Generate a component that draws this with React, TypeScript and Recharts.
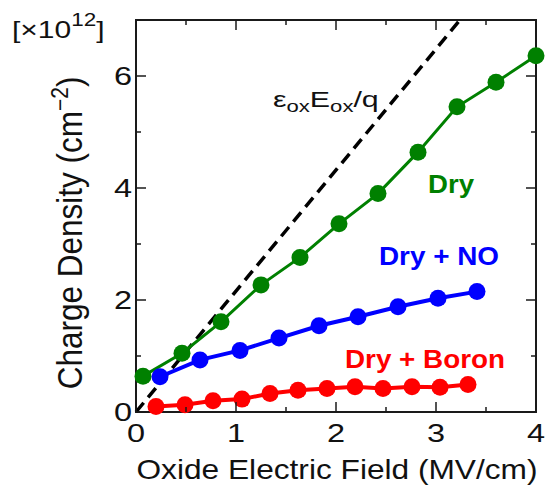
import { LineChart, Line, XAxis, YAxis, ReferenceArea } from "recharts";

// field in MV/cm, charge density in 1e12 cm^-2
const dryField = [0.07, 0.46, 0.85, 1.25, 1.64, 2.03, 2.42, 2.82, 3.21, 3.6, 4.0];
const dryCharge = [0.64, 1.05, 1.61, 2.27, 2.76, 3.36, 3.9, 4.64, 5.45, 5.89, 6.36];
const noField = [0.24, 0.64, 1.04, 1.43, 1.83, 2.22, 2.62, 3.02, 3.41];
const noCharge = [0.63, 0.93, 1.1, 1.32, 1.54, 1.7, 1.88, 2.03, 2.15];
const boronField = [0.2, 0.49, 0.77, 1.06, 1.34, 1.62, 1.91, 2.19, 2.47, 2.76, 3.04, 3.32];
const boronCharge = [0.1, 0.13, 0.2, 0.23, 0.33, 0.39, 0.42, 0.45, 0.42, 0.45, 0.44, 0.49];
const idealField = [0, 3.24];
const idealCharge = [0, 7];

const xTicks = [0, 0.5, 1, 1.5, 2, 2.5, 3, 3.5, 4];
const xLabels = [0, 1, 2, 3, 4];
const yTicks = [0, 1, 2, 3, 4, 5, 6, 7];
const yLabels = [0, 2, 4, 6];

const toPoints = (xs: number[], ys: number[]) => xs.map((x, i) => ({ x, y: ys[i] }));

const FONT = "'Liberation Sans', Arial, Helvetica, sans-serif";
const AXIS = "#1a1a1a";
const INK = "#111";

// ticks point inward on every side; the bottom/left axes also draw the mirrored top/right ticks
function BottomTick(props: any) {
  const { x, y, payload } = props;
  const major = xLabels.includes(payload.value);
  const len = major ? 10 : 5;
  return (
    <g stroke={AXIS} strokeWidth={1.5}>
      <line x1={x} x2={x} y1={y} y2={y - len} />
      <line x1={x} x2={x} y1={20} y2={20 + len} />
      {major && (
        <text transform={`translate(${x} ${y + 30}) scale(1.3 1)`} textAnchor="middle"
          fontSize={25} fontFamily={FONT} fill={INK} stroke="none">
          {payload.value}
        </text>
      )}
    </g>
  );
}

function LeftTick(props: any) {
  const { x, y, payload } = props;
  const major = yLabels.includes(payload.value);
  const len = major ? 10 : 5;
  return (
    <g stroke={AXIS} strokeWidth={1.5}>
      <line x1={x} x2={x + len} y1={y} y2={y} />
      <line x1={536} x2={536 - len} y1={y} y2={y} />
      {major && (
        <text transform={`translate(${x - 4} ${y}) scale(1.3 1)`} dy="0.36em" textAnchor="end"
          fontSize={25} fontFamily={FONT} fill={INK} stroke="none">
          {payload.value}
        </text>
      )}
    </g>
  );
}

export default function App() {
  return (
    <div style={{ position: "absolute", left: 0, top: 0, width: 550, height: 488, background: "#fff" }}>
      <LineChart width={550} height={488} margin={{ top: 20, right: 14, bottom: 36, left: 76 }}>
        <XAxis dataKey="x" type="number" domain={[0, 4]} ticks={xTicks} height={40}
          tickSize={0} tickMargin={0} tickLine={false} axisLine={false} tick={<BottomTick />} />
        <YAxis dataKey="y" type="number" domain={[0, 7]} ticks={yTicks} width={60}
          tickSize={0} tickMargin={0} tickLine={false} axisLine={false} tick={<LeftTick />} />

        <ReferenceArea x1={0} x2={4} y1={0} y2={7} fill="none" stroke={AXIS} strokeWidth={2} ifOverflow="visible" />

        <Line data={toPoints(idealField, idealCharge)} dataKey="y" stroke="#000"
          strokeWidth={3.5} strokeDasharray="12 7" dot={false} activeDot={false} isAnimationActive={false} />
        <Line data={toPoints(dryField, dryCharge)} dataKey="y" stroke="#008000"
          strokeWidth={3} dot={{ r: 8.5, fill: "#008000", stroke: "none" }} activeDot={false} isAnimationActive={false} />
        <Line data={toPoints(noField, noCharge)} dataKey="y" stroke="#0000ff"
          strokeWidth={4} dot={{ r: 8.5, fill: "#0000ff", stroke: "none" }} activeDot={false} isAnimationActive={false} />
        <Line data={toPoints(boronField, boronCharge)} dataKey="y" stroke="#ff0000"
          strokeWidth={4} dot={{ r: 8.5, fill: "#ff0000", stroke: "none" }} activeDot={false} isAnimationActive={false} />

        <g fontFamily={FONT}>
          <text transform="translate(12 38) scale(1.25 1)" fontSize={24} fill={INK}>
            [×10<tspan fontSize={18} dy={-12}>12</tspan><tspan dy={12}>]</tspan>
          </text>
          <text transform="translate(82 233) scale(1.1 1) rotate(-90)" textAnchor="middle" fontSize={31.5} fill={INK}>
            Charge Density (cm<tspan fontSize={21} dy={-13}>−2</tspan><tspan dy={13}>)</tspan>
          </text>
          <text x={337} y={479} textAnchor="middle" fontSize={28} fill={INK} textLength={401} lengthAdjust="spacingAndGlyphs">
            Oxide Electric Field (MV/cm)
          </text>
          <text transform="translate(273 107) scale(1.38 1)" fontSize={22} fill={INK}>
            ε<tspan fontSize={16} dy={5}>ox</tspan><tspan dy={-5}>E</tspan><tspan fontSize={16} dy={5}>ox</tspan><tspan dy={-5}>/q</tspan>
          </text>
          <text x={428} y={193} fontSize={25} fontWeight="bold" fill="#008000" textLength={46} lengthAdjust="spacingAndGlyphs">Dry</text>
          <text x={379} y={265} fontSize={25} fontWeight="bold" fill="#0000ff" textLength={120} lengthAdjust="spacingAndGlyphs">Dry + NO</text>
          <text x={345} y={368} fontSize={25} fontWeight="bold" fill="#ff0000" textLength={160} lengthAdjust="spacingAndGlyphs">Dry + Boron</text>
        </g>
      </LineChart>
    </div>
  );
}
